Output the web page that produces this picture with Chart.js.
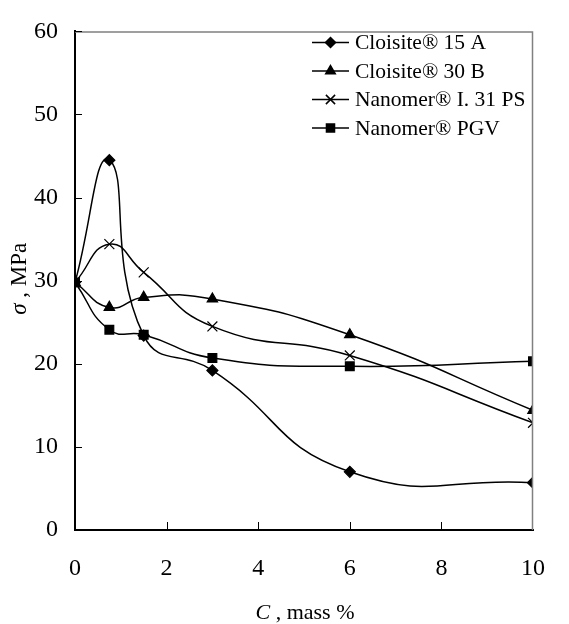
<!DOCTYPE html>
<html><head><meta charset="utf-8">
<script src="https://cdn.jsdelivr.net/npm/chart.js@4.4.0/dist/chart.umd.min.js"></script>
<style>html,body{margin:0;padding:0;background:#fff;}#c{display:block;}</style>
</head><body>
<canvas id="c" width="569" height="624"></canvas>
<script>
// ---- data ----
const concentrations = [0, 0.75, 1.5, 3, 6, 10];           // C, mass %
const cloisite15A   = [29.8, 44.5, 23.4, 19.2, 7.0, 5.7];  // sigma, MPa
const cloisite30B   = [29.8, 26.8, 28.0, 27.8, 23.5, 14.4];
const nanomer31PS   = [29.8, 34.4, 31.0, 24.5, 21.0, 12.9];
const nanomerPGV    = [29.8, 24.1, 23.5, 20.7, 19.7, 20.3];
const seriesLabels  = ['Cloisite® 15 A', 'Cloisite® 30 B', 'Nanomer® I. 31 PS', 'Nanomer® PGV'];
const xTickValues   = [0, 2, 4, 6, 8, 10];
const yTickValues   = [0, 10, 20, 30, 40, 50, 60];

const FONT = "'Liberation Serif', 'Times New Roman', serif";

const styles = [
  {pointStyle: 'rectRot', radius: 5.5},
  {pointStyle: 'triangle', radius: 6},
  {pointStyle: 'crossRot', radius: 7},
  {pointStyle: 'rect', radius: 6.2}
];
const seriesValues = [cloisite15A, cloisite30B, nanomer31PS, nanomerPGV];

const datasets = seriesValues.map((vals, i) => ({
  label: seriesLabels[i],
  data: concentrations.map((c, j) => ({x: c, y: vals[j]})),
  borderColor: '#000',
  backgroundColor: '#000',
  borderWidth: 1.5,
  tension: 0.5,
  pointStyle: styles[i].pointStyle,
  pointRadius: styles[i].radius,
  pointBorderWidth: 1.2,
  pointBackgroundColor: '#000',
  pointBorderColor: '#000',
  fill: false
}));

function drawMixed(ctx, parts, cx, cy) {
  let total = 0;
  parts.forEach(p => { ctx.font = p.font; total += ctx.measureText(p.text).width; });
  let x = cx - total / 2;
  ctx.textBaseline = 'middle';
  ctx.textAlign = 'left';
  parts.forEach(p => { ctx.font = p.font; ctx.fillText(p.text, x, cy); x += ctx.measureText(p.text).width; });
}

const decor = {
  id: 'decor',
  afterDraw(chart) {
    const ctx = chart.ctx, a = chart.chartArea;
    const xs = chart.scales.x, ys = chart.scales.y;
    ctx.save();
    // gray frame top/right
    ctx.strokeStyle = '#808080';
    ctx.lineWidth = 1.5;
    ctx.beginPath();
    ctx.moveTo(a.left, a.top + 0.5); ctx.lineTo(a.right - 0.5, a.top + 0.5); ctx.lineTo(a.right - 0.5, a.bottom);
    ctx.stroke();
    // inward ticks
    ctx.strokeStyle = '#000';
    ctx.lineWidth = 1;
    ctx.beginPath();
    yTickValues.forEach(v => {
      if (v === 0) return;
      const y = Math.round(ys.getPixelForValue(v)) + 0.5;
      ctx.moveTo(a.left, y); ctx.lineTo(a.left + 7, y);
    });
    xTickValues.forEach(v => {
      if (v === 0 || v === 10) return;
      const x = Math.round(xs.getPixelForValue(v)) + 0.5;
      ctx.moveTo(x, a.bottom); ctx.lineTo(x, a.bottom - 8);
    });
    ctx.stroke();
    // axis titles
    ctx.fillStyle = '#000';
    drawMixed(ctx, [
      {text: 'C', font: 'italic 22px ' + FONT},
      {text: ' , mass %', font: '22px ' + FONT}
    ], (a.left + a.right) / 2 + 1, 613);
    ctx.save();
    ctx.translate(20, (a.top + a.bottom) / 2 - 2);
    ctx.rotate(-Math.PI / 2);
    drawMixed(ctx, [
      {text: 'σ', font: 'italic 23px ' + FONT},
      {text: ' , MPa', font: '23px ' + FONT}
    ], 0, 0);
    ctx.restore();
    // legend
    const rowsY = [42.5, 71, 99.5, 128];
    chart.data.datasets.forEach((ds, i) => {
      const y = rowsY[i];
      ctx.strokeStyle = '#000';
      ctx.lineWidth = 1.5;
      ctx.beginPath(); ctx.moveTo(312, y); ctx.lineTo(349, y); ctx.stroke();
      ctx.fillStyle = '#000';
      Chart.helpers.drawPoint(ctx, {pointStyle: ds.pointStyle, radius: ds.pointRadius - 0.5, rotation: 0, borderWidth: 1.2}, 330.5, y);
      if (ds.pointStyle !== 'crossRot') ctx.fill();
      ctx.fillStyle = '#000';
      ctx.font = '21.5px ' + FONT;
      ctx.textAlign = 'left';
      ctx.textBaseline = 'middle';
      ctx.fillText(ds.label, 355, y + 1);
    });
    ctx.restore();
  }
};

new Chart(document.getElementById('c'), {
  type: 'line',
  data: {datasets},
  options: {
    responsive: false,
    animation: false,
    devicePixelRatio: 1,
    layout: {padding: {left: 0, right: 12, top: 17, bottom: 0}},
    plugins: {legend: {display: false}, tooltip: {enabled: false}},
    scales: {
      x: {
        type: 'linear', min: 0, max: 10,
        afterBuildTicks: s => { s.ticks = xTickValues.map(v => ({value: v})); },
        afterFit: s => { s.height = 94; },
        grid: {display: false, drawTicks: false},
        border: {display: true, color: '#000', width: 2},
        ticks: {font: {family: FONT, size: 24}, color: '#000', padding: 24, maxRotation: 0}
      },
      y: {
        type: 'linear', min: 0, max: 60,
        afterBuildTicks: s => { s.ticks = yTickValues.map(v => ({value: v})); },
        afterFit: s => { s.width = 75; },
        grid: {display: false, drawTicks: false},
        border: {display: true, color: '#000', width: 2},
        ticks: {font: {family: FONT, size: 24}, color: '#000', padding: 17}
      }
    }
  },
  plugins: [decor]
});
</script>
</body></html>
